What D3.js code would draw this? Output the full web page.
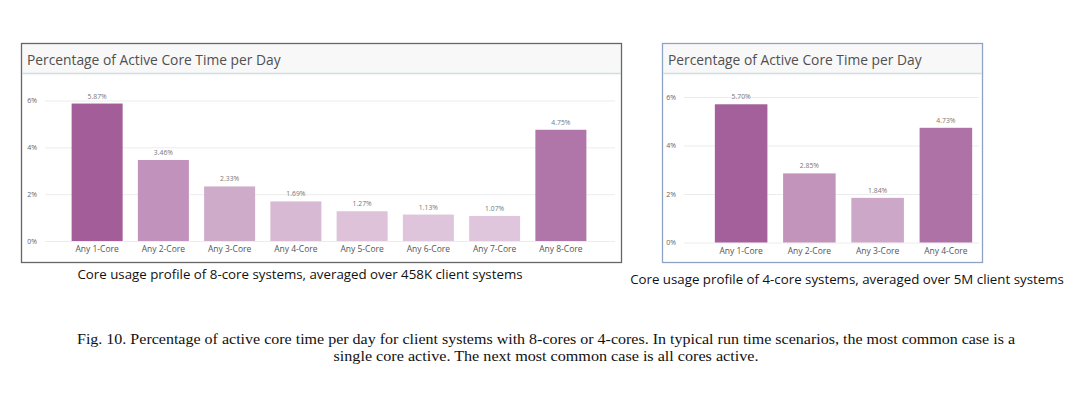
<!DOCTYPE html>
<html>
<head>
<meta charset="utf-8">
<script src="https://cdn.jsdelivr.net/npm/d3@7"></script>
<style>
  body { margin: 0; background: #fff; }
  svg { display: block; }
</style>
</head>
<body>
<div id="chart"></div>
<script>
// data
const cats8 = ["Any 1-Core", "Any 2-Core", "Any 3-Core", "Any 4-Core", "Any 5-Core", "Any 6-Core", "Any 7-Core", "Any 8-Core"];
const vals8 = [5.87, 3.46, 2.33, 1.69, 1.27, 1.13, 1.07, 4.75];
const cats4 = ["Any 1-Core", "Any 2-Core", "Any 3-Core", "Any 4-Core"];
const vals4 = [5.70, 2.85, 1.84, 4.73];
const yTicks = [0, 2, 4, 6];
const panelTitle = "Percentage of Active Core Time per Day";
const caption8 = "Core usage profile of 8-core systems, averaged over 458K client systems";
const caption4 = "Core usage profile of 4-core systems, averaged over 5M client systems";
const figCaption = [
    "Fig. 10. Percentage of active core time per day for client systems with 8-cores or 4-cores.  In typical run time scenarios, the most common case is a",
    "single core active.  The next most common case is all cores active."
];

const width = 1080, height = 397;
const svg = d3.select("#chart").append("svg")
    .attr("width", width)
    .attr("height", height);

function buildPanel(opts) {
    const g = svg.append("g");
    const cats = opts.cats, vals = opts.vals;

    // header strip + border
    g.append("rect")
        .attr("x", opts.box[0] + 1).attr("y", opts.box[1] + 1)
        .attr("width", opts.box[2] - 2).attr("height", opts.headerY - opts.box[1] - 1)
        .attr("fill", "#f8f8f8");
    g.append("line")
        .attr("x1", opts.box[0] + 1).attr("x2", opts.box[0] + opts.box[2] - 1)
        .attr("y1", opts.headerY).attr("y2", opts.headerY)
        .attr("stroke", "#cddfde").attr("stroke-width", 1.5);
    g.append("rect")
        .attr("x", opts.box[0]).attr("y", opts.box[1])
        .attr("width", opts.box[2]).attr("height", opts.box[3])
        .attr("fill", "none")
        .attr("stroke", opts.border).attr("stroke-width", 1.3);
    g.append("text")
        .attr("x", opts.box[0] + 5.5).attr("y", opts.box[1] + 21.5)
        .attr("font-family", "Open Sans, sans-serif")
        .attr("font-size", 13.8)
        .attr("fill", "#505050")
        .text(panelTitle);

    const x = d3.scaleBand()
        .domain(cats)
        .range(opts.xRange)
        .paddingInner(0.23)
        .paddingOuter(0.115);
    const y = d3.scaleLinear()
        .domain([0, 6])
        .range(opts.yRange);
    const color = d3.scaleLinear()
        .domain(opts.colorDomain)
        .range(["#e0c8dd", "#a15b97"]);

    // y axis with gridlines
    const yAxis = g.append("g")
        .attr("transform", `translate(${opts.gridX[0]},0)`)
        .call(d3.axisLeft(y)
            .tickValues(yTicks)
            .tickFormat(d => d + "%")
            .tickSize(-(opts.gridX[1] - opts.gridX[0]))
            .tickPadding(8));
    yAxis.select(".domain").remove();
    yAxis.selectAll(".tick line").attr("stroke", "#ececec");
    yAxis.selectAll(".tick text")
        .attr("font-family", "Open Sans, sans-serif")
        .attr("font-size", 7)
        .attr("fill", "#666");

    // bars
    g.selectAll(".bar")
        .data(vals)
        .join("rect")
        .attr("class", "bar")
        .attr("x", (d, i) => x(cats[i]))
        .attr("y", d => y(d))
        .attr("width", x.bandwidth())
        .attr("height", d => y(0) - y(d))
        .attr("fill", d => color(d));

    // value labels
    g.selectAll(".val")
        .data(vals)
        .join("text")
        .attr("class", "val")
        .attr("x", (d, i) => x(cats[i]) + x.bandwidth() / 2)
        .attr("y", d => y(d) - 5)
        .attr("text-anchor", "middle")
        .attr("font-family", "Open Sans, sans-serif")
        .attr("font-size", 6.8)
        .attr("fill", "#777")
        .text(d => d.toFixed(2) + "%");

    // category axis
    const xAxis = g.append("g")
        .attr("transform", `translate(0,${y(0)})`)
        .call(d3.axisBottom(x).tickSize(0).tickPadding(5));
    xAxis.select(".domain").remove();
    xAxis.selectAll(".tick text")
        .attr("font-family", "Open Sans, sans-serif")
        .attr("font-size", 8.5)
        .attr("fill", "#555");

    // caption under the panel
    svg.append("text")
        .attr("x", opts.captionX).attr("y", opts.captionY)
        .attr("text-anchor", "middle")
        .attr("font-family", "Open Sans, sans-serif")
        .attr("font-size", 13.3)
        .attr("fill", "#111")
        .text(opts.caption);
}

buildPanel({
    cats: cats8, vals: vals8,
    box: [21.5, 43.5, 600, 219],
    headerY: 73.5,
    border: "#666",
    xRange: [64, 594],
    yRange: [241, 100.5],
    gridX: [45, 615],
    colorDomain: [1, 6],
    caption: caption8,
    captionX: 300, captionY: 279
});

buildPanel({
    cats: cats4, vals: vals4,
    box: [662.5, 43.5, 320, 219],
    headerY: 73.5,
    border: "#8ea2c6",
    xRange: [707, 980],
    yRange: [242.5, 97],
    gridX: [684, 979],
    colorDomain: [0, 6],
    caption: caption4,
    captionX: 847, captionY: 284
});

// figure caption
svg.selectAll(".fig")
    .data(figCaption)
    .join("text")
    .attr("class", "fig")
    .attr("x", 546)
    .attr("y", (d, i) => 344 + i * 17)
    .attr("text-anchor", "middle")
    .attr("font-family", "Liberation Serif, serif")
    .attr("font-size", 14.5)
    .attr("fill", "#111")
    .attr("textLength", (d, i) => i === 0 ? 938 : 425)
    .attr("lengthAdjust", "spacingAndGlyphs")
    .text(d => d);
</script>
</body>
</html>
